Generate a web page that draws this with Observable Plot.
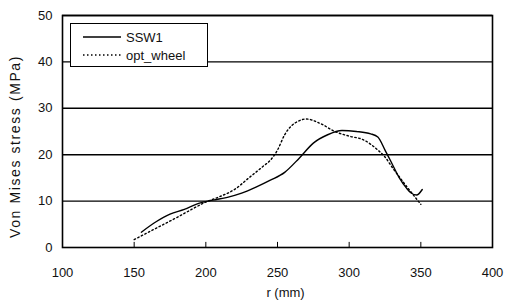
<!DOCTYPE html>
<html>
<head>
<meta charset="utf-8">
<script src="https://cdn.jsdelivr.net/npm/d3@7"></script>
<script src="https://cdn.jsdelivr.net/npm/@observablehq/plot@0.6"></script>
<style>
  html, body { margin: 0; padding: 0; background: #fff; }
  #wrap { position: relative; width: 506px; height: 305px; font-family: "Liberation Sans", Arial, sans-serif; }
  #legend { position: absolute; left: 70px; top: 23px; width: 136px; height: 42px; border: 1.3px solid #000; background: #fff; font-size: 13px; color: #111; }
  #legend .row { position: absolute; left: 12px; height: 16px; display: flex; align-items: center; }
  #legend svg { margin-right: 5px; }
  .ytitle text { letter-spacing: 1.6px; }
</style>
</head>
<body>
<div id="wrap">
  <div id="chart"></div>
  <div id="legend">
    <div class="row" style="top:5px"><svg width="38" height="4"><line x1="0" y1="2" x2="38" y2="2" stroke="#000" stroke-width="1.3"/></svg>SSW1</div>
    <div class="row" style="top:23px"><svg width="38" height="4"><line x1="0" y1="2" x2="38" y2="2" stroke="#000" stroke-width="1.3" stroke-dasharray="1.5,2.5"/></svg>opt_wheel</div>
  </div>
</div>
<script>
const ssw1R = [155,165,175,185,195,205,215,225,235,245,255,265,275,285,295,305,315,320,325,330,335,340,343,347,351];
const ssw1V = [3.3,5.5,7.2,8.2,9.5,10.2,10.8,11.7,13,14.5,16.2,19.2,22.5,24.3,25.2,25,24.5,23.8,21,18,15,12.8,11.8,11.3,12.5];
const optR = [150,160,170,180,190,200,210,220,230,240,245,250,255,260,265,270,280,290,300,310,320,325,330,340,350];
const optV = [1.7,3.3,4.9,6.5,8.2,9.8,11,12.5,15,17.5,18.8,21,24.3,26.3,27.3,27.7,26.7,25,24,23.2,21,19.5,17.3,13.2,9.3];
const xTicks = [100,150,200,250,300,350,400];
const yTicks = [0,10,20,30,40,50];
const xLabel = "r (mm)";
const yLabel = "Von Mises stress (MPa)";

const ssw1 = ssw1R.map((r,i) => ({r, v: ssw1V[i]}));
const opt = optR.map((r,i) => ({r, v: optV[i]}));

const chart = Plot.plot({
  width: 506,
  height: 305,
  marginLeft: 62,
  marginRight: 14,
  marginTop: 15,
  marginBottom: 58,
  style: {fontFamily: "'Liberation Sans', Arial, sans-serif", fontSize: "13px", color: "#111", background: "#fff"},
  x: {domain: [100, 400]},
  y: {domain: [0, 50]},
  marks: [
    Plot.ruleY(yTicks.slice(1), {stroke: "#000", strokeWidth: 1.4}),
    Plot.ruleX(xTicks.slice(1, -1), {y1: 0, y2: 1.1, stroke: "#000", strokeWidth: 1}),
    Plot.line(ssw1, {x: "r", y: "v", stroke: "#000", strokeWidth: 1.4, curve: "monotone-x"}),
    Plot.line(opt, {x: "r", y: "v", stroke: "#000", strokeWidth: 1.4, strokeDasharray: "1.5,2.5", curve: "monotone-x"}),
    Plot.frame({stroke: "#000", strokeWidth: 1.6}),
    Plot.axisX(xTicks, {tickSize: 0, tickPadding: 20, label: null, fontSize: 13}),
    Plot.axisY(yTicks, {tickSize: 0, tickPadding: 10, label: null, fontSize: 13}),
    Plot.text([xLabel], {frameAnchor: "bottom", dy: 49, dx: 8, fontSize: 13}),
    Plot.text([yLabel], {frameAnchor: "left", textAnchor: "middle", rotate: -90, dx: -47, dy: 15, fontSize: 14, className: "ytitle"})
  ]
});
document.getElementById("chart").appendChild(chart);
</script>
</body>
</html>
